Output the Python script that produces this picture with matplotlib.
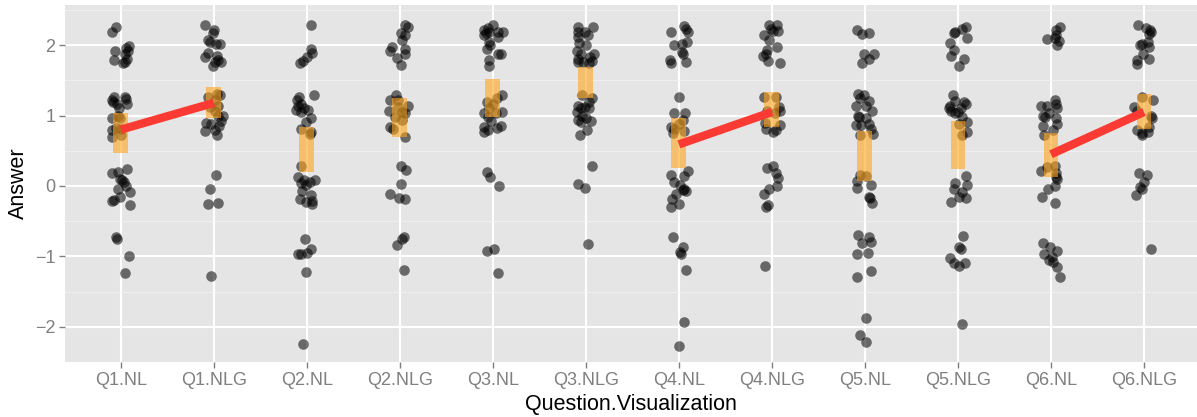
import numpy as np
import matplotlib
matplotlib.use("Agg")
import matplotlib.pyplot as plt

plt.rcParams['font.family'] = ['Liberation Sans', 'DejaVu Sans']

# categories on the x axis
categories = ["Q1.NL", "Q1.NLG", "Q2.NL", "Q2.NLG", "Q3.NL", "Q3.NLG",
              "Q4.NL", "Q4.NLG", "Q5.NL", "Q5.NLG", "Q6.NL", "Q6.NLG"]

# jittered answers (y) and horizontal jitter (dx)
q1_nl_y = [2.26, 2.18, 1.99, 1.96, 1.92, 1.92, 1.88, 1.79, 1.80, 1.74, 1.76,
           1.26, 1.27, 1.22, 1.19, 1.23, 1.16, 1.16, 1.11, 0.97, 1.00, 0.96, 0.79, 0.83, 0.81, 0.70, 0.73,
           0.19, 0.20, 0.24, 0.10, 0.06, 0.08, 0.00, -0.05, -0.08, -0.15, -0.20, -0.22, -0.27,
           -0.73, -0.75, -0.99, -1.23]
q1_nl_dx = [-0.05, -0.10, 0.09, 0.06, -0.06, 0.08, 0.04, -0.07, 0.07, 0.02, 0.04,
            -0.07, 0.05, -0.10, -0.08, 0.06, -0.04, 0.07, -0.02, -0.10, -0.03, -0.01, -0.10, -0.05, 0.00, -0.10, 0.00,
            -0.10, -0.03, 0.07, -0.01, 0.03, 0.01, 0.06, -0.03, 0.10, -0.01, -0.07, -0.09, 0.10,
            -0.05, -0.04, 0.09, 0.04]

q1_nlg_y = [2.29, 2.22, 2.17, 2.07, 2.05, 2.02, 2.02, 1.89, 1.83, 1.84, 1.79, 1.76, 1.76, 1.71,
            1.26, 1.31, 1.29, 1.22, 1.13, 1.12, 1.07, 1.00, 1.00, 0.89, 0.88, 0.92, 0.78, 0.79, 0.73, 0.85,
            0.15, -0.04, -0.25, -0.24,
            -1.28]
q1_nlg_dx = [-0.10, 0.00, -0.01, -0.06, -0.04, 0.02, 0.07, -0.06, -0.09, 0.03, 0.05, 0.01, 0.08, -0.01,
             -0.06, 0.03, 0.07, 0.01, 0.05, -0.04, 0.01, 0.05, 0.10, -0.08, -0.03, 0.08, -0.10, 0.01, 0.03, 0.06,
             0.02, -0.04, -0.06, 0.04,
             -0.03]

q2_nl_y = [2.29, 1.95, 1.89, 1.83, 1.78, 1.74,
           1.29, 1.26, 1.22, 1.17, 1.13, 1.11, 1.08, 1.08, 1.05, 0.96, 0.91, 0.81, 0.77, 0.74,
           0.28, 0.13, 0.08, 0.04, 0.06, 0.09, 0.01, -0.07, -0.18, -0.13, -0.21, -0.23, -0.25,
           -0.76, -0.89, -0.96, -0.96, -0.95, -1.22, -2.25]
q2_nl_dx = [0.05, 0.05, 0.06, 0.00, -0.04, -0.07,
            0.08, -0.08, -0.11, -0.06, -0.10, -0.03, -0.12, 0.01, -0.06, 0.05, -0.01, -0.06, 0.05, 0.03,
            -0.06, -0.09, -0.03, -0.06, 0.03, 0.09, -0.01, -0.05, -0.07, 0.05, 0.06, -0.01, 0.06,
            -0.02, 0.05, -0.10, -0.06, 0.00, -0.01, -0.04]

q2_nlg_y = [2.28, 2.26, 2.17, 2.14, 2.07, 1.97, 1.91, 1.95, 1.88, 1.82, 1.72,
            1.29, 1.22, 1.22, 1.14, 1.07, 1.05, 1.03, 0.98, 0.84, 0.81, 0.70, 1.12, 0.93,
            0.28, 0.23, 0.03, -0.12, -0.17, -0.19,
            -0.72, -0.75, -0.84, -1.20]
q2_nlg_dx = [0.05, 0.09, 0.01, 0.06, 0.02, -0.08, -0.11, 0.05, 0.06, -0.03, 0.01,
             -0.04, -0.11, -0.02, 0.09, -0.12, 0.02, 0.05, -0.05, -0.11, -0.07, 0.06, -0.02, 0.02,
             0.01, 0.07, 0.01, -0.11, -0.01, 0.05,
             0.04, 0.02, -0.03, 0.04]

q3_nl_y = [2.29, 2.25, 2.21, 2.19, 2.19, 2.19, 2.17, 2.14, 2.11, 2.04, 2.00, 1.95, 1.88, 1.87, 1.79, 1.71,
           1.29, 1.25, 1.19, 1.17, 1.10, 1.03, 1.05, 1.03, 0.98, 0.92, 0.85, 0.84, 0.82, 0.79, 0.76,
           0.20, 0.13, 0.00,
           -0.92, -0.89, -1.24]
q3_nl_dx = [0.00, -0.05, -0.10, -0.04, 0.06, 0.11, -0.07, -0.10, 0.05, -0.04, -0.03, -0.06, 0.09, 0.05, -0.04, -0.04,
            0.10, 0.04, -0.06, 0.00, -0.04, -0.09, 0.10, 0.03, -0.05, -0.02, 0.09, -0.10, 0.04, -0.05, -0.09,
            -0.06, -0.03, 0.07,
            -0.06, 0.01, 0.05]

q3_nlg_y = [2.26, 2.26, 2.19, 2.19, 2.11, 2.14, 2.03, 2.00, 1.92, 1.88, 1.88, 1.81, 1.83, 1.77, 1.76, 1.74, 1.76,
            1.25, 1.29, 1.19, 1.13, 1.11, 1.12, 1.05, 1.10, 1.00, 0.93, 0.96, 0.92, 0.91, 0.80, 0.73,
            0.28, 0.03, -0.03,
            -0.83]
q3_nlg_dx = [-0.09, 0.08, -0.08, -0.01, -0.08, 0.02, -0.07, 0.00, -0.10, -0.05, 0.09, -0.08, 0.04, 0.07, -0.03, 0.03, -0.09,
             0.07, -0.04, 0.03, -0.08, -0.05, -0.01, -0.10, 0.03, -0.04, -0.08, 0.00, 0.05, -0.05, 0.01, -0.06,
             0.07, -0.08, -0.01,
             0.02]

q4_nl_y = [2.27, 2.23, 2.18, 2.18, 2.04, 2.02, 2.00, 1.90, 1.87, 1.79, 1.74, 1.76,
           1.26, 1.04, 1.04, 0.93, 0.84, 0.81, 0.75, 0.78, 0.88,
           0.21, 0.15, 0.14, 0.06, 0.01, -0.04, -0.07, -0.11, -0.18, -0.30, -0.26, -0.06,
           -0.73, -0.87, -0.94, -0.96, -1.19, -1.93, -2.28]
q4_nl_dx = [0.05, 0.08, 0.10, -0.09, 0.09, 0.03, -0.05, 0.03, 0.04, -0.10, -0.09, 0.08,
            0.00, -0.05, 0.07, 0.04, -0.09, -0.05, -0.06, 0.05, 0.00,
            0.10, -0.09, 0.05, -0.05, 0.01, 0.05, 0.08, -0.03, -0.07, -0.09, 0.00, 0.04,
            -0.06, 0.04, 0.01, 0.02, 0.08, 0.06, 0.00]

q4_nlg_y = [2.28, 2.29, 2.20, 2.23, 2.15, 2.08, 1.97, 1.93, 1.85, 1.88, 1.77, 1.74, 2.20,
            1.27, 1.26, 1.12, 1.07, 0.89, 0.81, 0.77, 0.79, 0.86, 1.07, 1.03,
            0.29, 0.25, 0.18, 0.11, 0.00, -0.05, -0.11, -0.30, -0.27,
            -1.13]
q4_nlg_dx = [-0.03, 0.06, 0.07, -0.01, -0.08, -0.03, 0.06, -0.05, -0.10, -0.06, -0.04, 0.09, 0.01,
             -0.09, 0.04, 0.08, 0.09, -0.07, -0.06, 0.01, 0.04, 0.09, -0.05, 0.03,
             0.01, -0.05, 0.04, 0.07, 0.06, -0.03, -0.09, -0.06, -0.04,
             -0.07]

q5_nl_y = [2.21, 2.16, 2.17, 1.88, 1.87, 1.81, 1.74,
           1.30, 1.29, 1.25, 1.21, 1.14, 1.13, 1.07, 1.00, 0.98, 0.96, 0.86, 0.87, 0.88, 0.81, 0.74, 0.72,
           0.15, 0.14, 0.07, -0.03, 0.01, -0.15, -0.17, -0.24,
           -0.70, -0.81, -0.73, -0.79, -0.97, -0.95, -1.21, -1.29, -1.87, -2.12, -2.22]
q5_nl_dx = [-0.08, -0.03, 0.04, -0.01, 0.10, 0.04, -0.03,
            -0.07, -0.01, -0.05, 0.04, -0.10, 0.01, 0.08, -0.07, -0.06, 0.01, -0.10, -0.04, 0.04, 0.06, 0.09, -0.05,
            -0.05, 0.01, -0.09, -0.08, 0.07, 0.04, 0.05, 0.08,
            -0.07, -0.03, 0.04, 0.06, -0.09, 0.03, 0.07, -0.08, 0.01, -0.05, 0.01]

q5_nlg_y = [2.26, 2.23, 2.18, 2.17, 2.10, 2.03, 1.93, 1.85, 1.81, 1.70,
            1.29, 1.13, 1.21, 1.19, 1.17, 1.10, 1.07, 1.10, 1.05, 0.98, 0.91, 0.77, 0.72, 1.03, 0.88,
            0.14, 0.04, 0.01, -0.04, -0.09, -0.15, -0.17, -0.23,
            -0.71, -0.87, -0.89, -1.03, -1.10, -1.13, -1.09, -1.96]
q5_nlg_dx = [0.09, 0.04, -0.03, -0.04, 0.10, -0.09, -0.04, -0.08, 0.07, 0.01,
             -0.05, -0.09, -0.03, 0.06, 0.09, 0.03, -0.07, -0.10, 0.00, 0.04, 0.10, 0.10, 0.04, -0.03, 0.01,
             0.09, -0.03, 0.10, -0.04, 0.04, 0.01, 0.09, -0.07,
             0.05, 0.01, 0.03, -0.09, -0.04, 0.01, 0.08, 0.04]

q6_nl_y = [2.26, 2.21, 2.14, 2.09, 2.10, 2.06, 2.00,
           1.22, 1.14, 1.14, 1.16, 1.10, 1.03, 1.00, 0.98, 0.96, 0.85, 0.88, 0.79, 0.73,
           0.21, 0.27, 0.28, 0.18, 0.13, 0.10, 0.00, -0.04, -0.15, -0.24,
           -0.81, -0.87, -0.92, -0.96, -1.01, -1.08, -1.15, -1.29, -1.05]
q6_nl_dx = [0.10, 0.05, 0.05, -0.04, 0.04, 0.09, 0.06,
            0.04, -0.11, -0.04, 0.05, 0.06, -0.02, -0.09, -0.06, 0.05, -0.09, 0.07, 0.02, -0.07,
            -0.11, -0.04, 0.04, 0.05, 0.05, 0.07, 0.04, -0.03, -0.10, 0.04,
            -0.09, -0.01, 0.07, -0.08, 0.01, 0.02, 0.06, 0.10, -0.02]

q6_nlg_y = [2.28, 2.25, 2.21, 2.19, 2.16, 2.02, 2.04, 1.97, 2.00, 1.87, 1.81, 1.79, 1.73,
            1.27, 1.22, 1.12, 1.07, 1.00, 0.97, 0.79, 0.75, 0.77, 0.72, 0.84,
            0.18, 0.15, 0.06, -0.01, -0.04, -0.13,
            -0.90]
q6_nlg_dx = [-0.06, 0.02, 0.06, 0.08, 0.05, -0.02, 0.04, 0.05, -0.04, -0.01, 0.05, -0.08, -0.07,
             -0.02, 0.10, -0.11, -0.07, 0.08, 0.09, -0.08, -0.02, 0.04, -0.02, 0.05,
             -0.05, 0.03, 0.00, -0.04, -0.02, -0.09,
             0.08]

# confidence interval of the mean for each category
ci_low = [0.47, 0.97, 0.20, 0.70, 0.98, 1.25, 0.25, 0.84, 0.07, 0.24, 0.13, 0.81]
ci_high = [1.04, 1.41, 0.84, 1.25, 1.52, 1.69, 0.97, 1.33, 0.78, 0.92, 0.75, 1.30]

# red mean lines: NL -> NLG for Q1, Q4, Q6
line_pairs = [("Q1.NL", "Q1.NLG"), ("Q4.NL", "Q4.NLG"), ("Q6.NL", "Q6.NLG")]
line_means = [(0.80, 1.18), (0.59, 1.05), (0.45, 1.05)]

all_y = [q1_nl_y, q1_nlg_y, q2_nl_y, q2_nlg_y, q3_nl_y, q3_nlg_y,
         q4_nl_y, q4_nlg_y, q5_nl_y, q5_nlg_y, q6_nl_y, q6_nlg_y]
all_dx = [q1_nl_dx, q1_nlg_dx, q2_nl_dx, q2_nlg_dx, q3_nl_dx, q3_nlg_dx,
          q4_nl_dx, q4_nlg_dx, q5_nl_dx, q5_nlg_dx, q6_nl_dx, q6_nlg_dx]

fig = plt.figure(figsize=(11.97, 4.17), dpi=100)
ax = fig.add_axes([0.0543, 0.132, 0.9457, 0.856])
ax.set_facecolor('#E5E5E5')

xpos = np.arange(1, len(categories) + 1)

# points
for i, (ys, dxs) in enumerate(zip(all_y, all_dx)):
    xs = xpos[i] + np.array(dxs)
    ax.scatter(xs, ys, s=58, color='black', alpha=0.55, linewidths=0, zorder=3)

# CI bars
ax.bar(xpos, np.array(ci_high) - np.array(ci_low), bottom=ci_low, width=0.16,
       color='#FFA41C', alpha=0.6, linewidth=0, zorder=4)

# mean lines
for (a, b), (m1, m2) in zip(line_pairs, line_means):
    xa = categories.index(a) + 1
    xb = categories.index(b) + 1
    ax.plot([xa, xb], [m1, m2], color='#FB3A33', linewidth=6, solid_capstyle='butt', zorder=5)

ax.set_xlim(0.4, 12.57)
ax.set_ylim(-2.5, 2.57)
ax.set_xticks(xpos)
ax.set_xticklabels(categories)
ax.set_yticks([-2, -1, 0, 1, 2])
ax.set_yticklabels(['\u22122', '\u22121', '0', '1', '2'])
ax.set_yticks([-1.5, -0.5, 0.5, 1.5, 2.5], minor=True)

ax.grid(which='major', color='white', linewidth=1.5, zorder=0)
ax.grid(which='minor', axis='y', color='#F2F2F2', linewidth=0.6, zorder=0)
ax.set_axisbelow(True)
for s in ax.spines.values():
    s.set_visible(False)

ax.tick_params(axis='both', which='major', colors='#7F7F7F', labelsize=13, length=4, width=1, pad=3)
ax.tick_params(axis='both', which='minor', length=0)
for lab in ax.get_xticklabels() + ax.get_yticklabels():
    lab.set_color('#7F7F7F')

ax.set_xlabel('Question.Visualization', fontsize=15.5, color='black', labelpad=4)
ax.set_ylabel('Answer', fontsize=15.5, color='black', labelpad=4)

fig.savefig('out.png', dpi=100)
